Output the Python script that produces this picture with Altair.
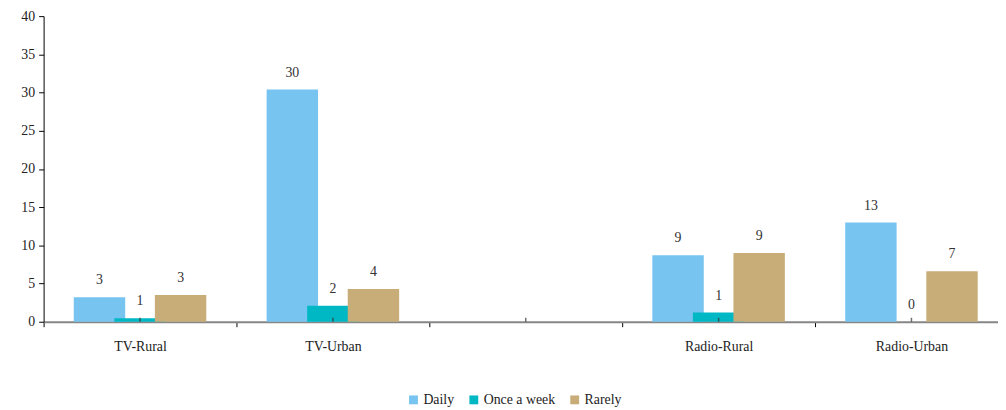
import altair as alt
import pandas as pd

categories = ["TV-Rural", "TV-Urban", " ", "Radio-Rural", "Radio-Urban"]
series = ["Daily", "Once a week", "Rarely"]
daily = [3.2, 30.4, None, 8.7, 13.0]
once_a_week = [0.45, 2.1, None, 1.2, 0.0]
rarely = [3.5, 4.3, None, 9.0, 6.6]
daily_labels = ["3", "30", "", "9", "13"]
once_labels = ["1", "2", "", "1", "0"]
rarely_labels = ["3", "4", "", "9", "7"]
colors = ["#77C4F0", "#00B7C4", "#C8AD79"]
draw_rank = [1, 0, 2]

FONT = "Liberation Serif, Times New Roman, serif"

rows = []
for s, vals, labs, rank in zip(series, [daily, once_a_week, rarely],
                               [daily_labels, once_labels, rarely_labels], draw_rank):
    for c, v, l in zip(categories, vals, labs):
        if v is None:
            continue
        rows.append({"category": c, "series": s, "value": v, "label": l, "rank": rank})
df = pd.DataFrame(rows)
centers = pd.DataFrame({"category": categories, "value": [0] * len(categories)})

x_scale = alt.Scale(domain=categories, range=[0, 975], paddingInner=0, paddingOuter=0)
x_axis = alt.Axis(title=None, labelAngle=0, tickBand="extent", tickSize=5,
                  tickColor="#000000", domainColor="#868686", domainWidth=2,
                  labelFont=FONT, labelFontSize=14, labelColor="#222222",
                  labelPadding=13)
x_enc = alt.X("category:N", scale=x_scale, axis=x_axis)
xo_enc = alt.XOffset("series:N",
                     scale=alt.Scale(domain=series, paddingInner=0, paddingOuter=0.878))
y_enc = alt.Y("value:Q",
              scale=alt.Scale(domain=[0, 40], nice=False),
              axis=alt.Axis(title=None, values=list(range(0, 41, 5)), grid=False,
                            labelOverlap=False, tickCount=9,
                            tickSize=5, tickColor="#000000", domainColor="#000000",
                            labelFont=FONT, labelFontSize=14, labelColor="#222222",
                            labelPadding=4))

base = alt.Chart(df)

bars = base.mark_bar(width=52).encode(
    x=x_enc,
    xOffset=xo_enc,
    y=y_enc,
    color=alt.Color("series:N",
                    scale=alt.Scale(domain=series, range=colors),
                    legend=alt.Legend(title=None, orient="none", direction="horizontal",
                                      legendX=367, legendY=381, symbolType="square",
                                      symbolSize=80, symbolStrokeWidth=0,
                                      labelFont=FONT, labelFontSize=14,
                                      labelColor="#222222", columnPadding=12,
                                      labelOffset=3)),
    order=alt.Order("rank:Q"),
)

labels = base.mark_text(baseline="bottom", dy=-10, fontSize=14, font=FONT,
                        color="#333333").encode(
    x=x_enc,
    xOffset=xo_enc,
    y=y_enc,
    text="label:N",
)

minor = alt.Chart(centers).mark_tick(orient="vertical", size=4, thickness=1.5,
                                     color="#333333").encode(
    x=x_enc,
    y=y_enc,
    yOffset=alt.value(-2),
)

chart = alt.layer(bars, labels, minor).properties(
    width=965, height=309,
    autosize=alt.AutoSizeParams(type="none"),
    padding={"left": 36, "top": 6, "right": 0, "bottom": 87},
).configure_view(stroke=None)

chart.save("out.html", embed_options={"renderer": "svg", "actions": False})
